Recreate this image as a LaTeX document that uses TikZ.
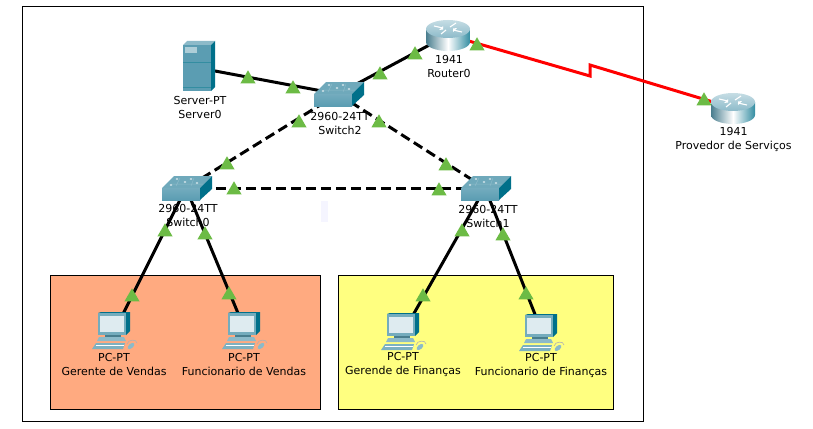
\documentclass[tikz,border=0pt]{standalone}
\usepackage{fontspec}
\setmainfont{DejaVu Sans}
\usetikzlibrary{shapes.geometric}
\definecolor{tealfront}{HTML}{5B9DB2}
\definecolor{tealside}{HTML}{00708A}
\definecolor{tealtop}{HTML}{6FA9BB}
\definecolor{zonesales}{HTML}{FFAA80}
\definecolor{zonefinance}{HTML}{FFFF80}
\definecolor{linkgreen}{HTML}{6CBB45}
\tikzset{
  switchicon/.pic={
    \fill[tealtop] (-24,0) -- (-12,-12) -- (26,-12) -- (14,0) -- cycle;
    \shade[top color=tealfront!85!white,bottom color=tealfront] (-24,0) rectangle (14,12);
    \fill[tealside] (14,0) -- (26,-12) -- (26,1) -- (14,12) -- cycle;
    \draw[tealfront!70!white,line width=.5pt] (-15,-4) -- (17,-4) (-6,-10) -- (-10,-2) (8,-10) -- (5,-2);
    \foreach \a/\b in {-15/-3,-9/-9,5/-9,11/-5,-1/-6}
      \fill[white] (\a,\b) ellipse (1.4 and .7);
  },
  routericon/.pic={
    \shade[left color=tealfront!80!black,right color=tealside!80!white,middle color=white]
      (-22,-6) -- (-22,7) arc[start angle=180,end angle=0,x radius=22,y radius=9] -- (22,-6) -- cycle;
    \shade[top color=tealfront!35!white,bottom color=tealfront!70!white] (0,-6) ellipse (22 and 9);
    \draw[white,line width=1.1pt] (-14,-9) -- (-5,-7) (14,-3) -- (5,-5) (-7,-1) -- (-2,-5) (8,-12) -- (2,-8);
    \fill[white] (-5,-5.5) -- (-9,-5) -- (-5,-9) -- cycle (5,-6.5) -- (9,-7) -- (5,-3) -- cycle;
  },
  servericon/.pic={
    \fill[tealtop!80!white] (-16,-23) -- (-12,-27) -- (16,-27) -- (12,-23) -- cycle;
    \fill[tealfront] (-16,-23) rectangle (12,23);
    \fill[tealside] (12,-23) -- (16,-27) -- (16,19) -- (12,23) -- cycle;
    \fill[tealfront!50!white] (-14,-21) rectangle (-2,-15);
    \draw[tealside!80!white,line width=.5pt] (-16,-6) -- (12,-6) (-16,19) -- (12,19);
  },
  pcicon/.pic={
    \fill[tealside] (-17,-17) -- (-14,-18) -- (15,-18) -- (15,1) -- (11,5) -- (11,-17) -- cycle;
    \fill[tealfront!85!white] (-17,-17) rectangle (11,5);
    \fill[white!80!tealfront] (-15,-14) rectangle (9,2);
    \fill[tealfront!80!black] (-10,5) rectangle (6,7);
    \fill[tealfront!70!white] (-16,7) -- (9,7) -- (11,11) -- (-18,11) -- cycle;
    \fill[tealfront!80!white] (-19,13) -- (10,13) -- (8,19) -- (-23,19) -- cycle;
    \draw[white,line width=.4pt] (-19,15.5) -- (9,15.5);
    \draw[gray!60,line width=.6pt] (12,14) .. controls (13,9) and (22,9) .. (22,13);
    \fill[tealfront!70!white,rotate around={40:(16,16)}] (16,16) ellipse (4 and 2.2);
  }
}
\begin{document}
\begin{tikzpicture}[x=1pt,y=-1pt,
  zone/.style={draw=black,line width=.8pt},
  netlink/.style={line width=3pt},
  swlink/.style={line width=3pt,dash pattern=on 10pt off 5pt},
  wanlink/.style={line width=3pt,color=red,line join=miter},
  devlabel/.style={align=center,inner sep=0pt,font=\fontsize{11}{14}\selectfont},
  linktri/.style={regular polygon,regular polygon sides=3,fill=linkgreen,minimum size=17.5pt,inner sep=0pt,yshift=-2pt}]
\useasboundingbox (0,0) rectangle (813,428);
% areas
\draw[zone,fill=white] (22,6.5) rectangle (643,421);
\fill[blue!4] (321,201) rectangle (328,222);
\draw[zone,fill=zonesales] (50,275.5) rectangle (320,409);
\draw[zone,fill=zonefinance] (338,275) rectangle (613,409);
% devices
\coordinate (server0) at (199,68);
\coordinate (router0) at (448,35);
\coordinate (isp) at (733,108);
\coordinate (sw2) at (338,94);
\coordinate (sw0) at (186,188);
\coordinate (sw1) at (485,188);
\coordinate (pc0) at (115,330);
\coordinate (pc1) at (245,330);
\coordinate (pc2) at (404,331);
\coordinate (pc3) at (542,332);
\coordinate (zigA) at (590,76);
\coordinate (zigB) at (590,65);
% links
\draw[netlink] (server0) -- (sw2);
\draw[netlink] (router0) -- (sw2);
\draw[swlink] (sw2) -- (sw0);
\draw[swlink] (sw2) -- (sw1);
\draw[swlink] (sw0) -- (sw1);
\draw[netlink] (sw0) -- (pc0);
\draw[netlink] (sw0) -- (pc1);
\draw[netlink] (sw1) -- (pc2);
\draw[netlink] (sw1) -- (pc3);
\draw[wanlink] (router0) -- (zigA) -- (zigB) -- (isp);
\pic at (server0) {servericon};
\pic at (router0) {routericon};
\pic at (isp) {routericon};
\pic at (sw2) {switchicon};
\pic at (sw0) {switchicon};
\pic at (sw1) {switchicon};
\foreach \c in {pc0,pc1,pc2,pc3}
\pic at (\c) {pcicon};
% labels
\node[devlabel] (lblserver) at (200,107) {Server-PT\\Server0};
\node[devlabel] (lblrouter) at (449,66) {1941\\Router0};
\node[devlabel] (lblisp) at (733.5,139) {1941\\Provedor de Serviços};
\node[devlabel] (lblsw2) at (340,123) {2960-24TT\\Switch2};
\node[devlabel] (lblsw0) at (188,215) {2960-24TT\\Switch0};
\node[devlabel] (lblsw1) at (488,216) {2960-24TT\\Switch1};
\node[devlabel] (lblpc0) at (114,364.5) {PC-PT\\Gerente de Vendas};
\node[devlabel] (lblpc1) at (244,364.5) {PC-PT\\Funcionario de Vendas};
\node[devlabel] (lblpc2) at (403,364.5) {PC-PT\\Gerende de Finanças};
\node[devlabel] (lblpc3) at (541,365.5) {PC-PT\\Funcionario de Finanças};
% link lights
\foreach \n/\x/\y in {a/248/77,b/293/87,c/380/73,d/415/53,e/477/44,f/704/99}
\node[linktri] (tri\n) at (\x,\y) {};
\foreach \n/\x/\y in {g/299/121,h/227/163,i/379/121,j/446/164,k/234/188,l/439/189,m/165/230,n/205/233,o/462/230,p/503/234,q/132/295,r/229/293,s/423/295,t/526/293}
\node[linktri] (tri\n) at (\x,\y) {};
\end{tikzpicture}
\end{document}
